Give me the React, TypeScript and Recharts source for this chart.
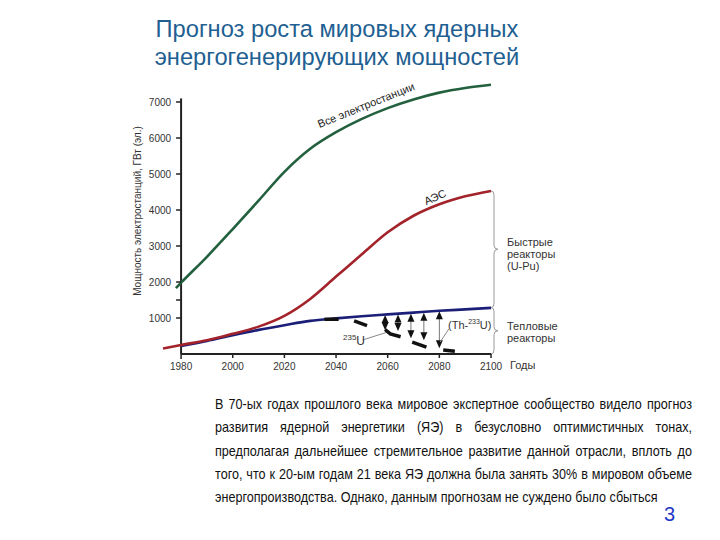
import { LineChart, Line, XAxis, YAxis, ReferenceLine } from 'recharts'

// --- data ---
const YEAR_TICKS = [1980, 2000, 2020, 2040, 2060, 2080, 2100]
const VALUE_TICKS = [1000, 1500, 2000, 3000, 4000, 5000, 6000, 7000]

const allYears = [1978, 1980, 1990, 2000, 2010, 2020, 2030, 2040, 2050, 2060, 2070, 2080, 2090, 2100]
const allValues = [1830, 1980, 2700, 3470, 4260, 5060, 5700, 6160, 6530, 6830, 7070, 7260, 7390, 7480]

const npsYears = [1973, 1980, 1990, 2000, 2010, 2020, 2030, 2040, 2050, 2060, 2070, 2080, 2090, 2100]
const npsValues = [150, 250, 380, 560, 760, 1060, 1530, 2150, 2770, 3380, 3840, 4160, 4380, 4530]

const thermalYears = [1980, 1990, 2000, 2010, 2020, 2030, 2040, 2050, 2060, 2070, 2080, 2090, 2100]
const thermalValues = [220, 360, 520, 670, 800, 920, 990, 1050, 1100, 1150, 1200, 1240, 1280]

// 235U thermal reactors decline, drawn as separate thick dashes
const u235Dashes = [
  [[2035.5, 965], [2041, 965]],
  [[2047, 920], [2052, 790]],
  [[2059, 680], [2061, 560], [2065, 480]],
  [[2069.5, 330], [2075, 190]],
  [[2081.5, 110], [2086, 75]],
]

const arrowYears = [2059, 2064, 2069, 2074, 2080]
const arrowTops = [1085, 1095, 1120, 1145, 1190]
const arrowBottoms = [660, 640, 440, 380, 160]

const X_MIN = 1973
const X_MAX = 2100
const Y_TOP = 7500 // plot area top (data goes above the drawn axis)
const Y_AXIS_END = 7100

const MARGIN = { top: 84, right: 229, bottom: 156, left: 123 }
const Y_AXIS_W = 40
const PLOT_W = 720 - MARGIN.left - MARGIN.right - Y_AXIS_W
const OFFSET_1980 = ((1980 - X_MIN) / (X_MAX - X_MIN)) * PLOT_W

const FONT = '"Liberation Sans", Arial, sans-serif'

const toPts = (xs: number[], ys: number[]) => xs.map((x, i) => ({ year: x, v: ys[i] }))

function YTick(props: any) {
  const { x, y, payload } = props
  const ax = x + OFFSET_1980
  const major = payload.value % 1000 === 0
  return (
    <g>
      <line x1={ax - 5} x2={ax} y1={y} y2={y} stroke="#222" strokeWidth={1.5} />
      {major && (
        <text x={ax - 10} y={y} dy={3.5} textAnchor="end" fontSize={10} fill="#333" fontFamily={FONT}>
          {payload.value}
        </text>
      )}
    </g>
  )
}

function XTick(props: any) {
  const { x, y, payload } = props
  return (
    <g>
      <line x1={x} x2={x} y1={y} y2={y + (payload.value === 1980 ? 5 : 4)} stroke="#222" strokeWidth={1.5} />
      <text x={x} y={y + 15.5} textAnchor="middle" fontSize={10} fill="#333" fontFamily={FONT}>
        {payload.value}
      </text>
    </g>
  )
}

function Arrow(props: any) {
  const { x1, y1, y2 } = props
  const top = Math.min(y1, y2)
  const bot = Math.max(y1, y2)
  return (
    <g>
      <line x1={x1} x2={x1} y1={top + 6} y2={bot - 6} stroke="#777" strokeWidth={1} />
      <polygon points={`${x1 - 3.5},${top + 8} ${x1 + 3.5},${top + 8} ${x1},${top}`} fill="#111" />
      <polygon points={`${x1 - 3.5},${bot - 8} ${x1 + 3.5},${bot - 8} ${x1},${bot}`} fill="#111" />
    </g>
  )
}

function Brace(props: any) {
  const { x1, y1, y2 } = props
  const top = Math.min(y1, y2)
  const bot = Math.max(y1, y2)
  const mid = (top + bot) / 2
  const x = x1 + 1
  const d = `M${x - 1},${top} Q${x + 2},${top} ${x + 2},${top + 4} L${x + 2},${mid - 4} Q${x + 2},${mid} ${x + 6},${mid} Q${x + 2},${mid} ${x + 2},${mid + 4} L${x + 2},${bot - 4} Q${x + 2},${bot} ${x - 1},${bot}`
  return <path d={d} fill="none" stroke="#999" strokeWidth={1} />
}

function YLabel(props: any) {
  const { viewBox } = props
  const cx = viewBox.x + 14
  const cy = viewBox.y + viewBox.height / 2 - 8
  return (
    <text x={cx} y={cy} transform={`rotate(-90, ${cx}, ${cy})`} textAnchor="middle" dominantBaseline="central" fontSize={10} fill="#333" fontFamily={FONT}>
      Мощность электростанций,  ГВт (эл.)
    </text>
  )
}

const abs = (left: number, top: number, extra: any = {}) => ({ position: 'absolute' as const, left, top, whiteSpace: 'nowrap' as const, ...extra })

const PARA_LINES = [
  'В 70-ых годах прошлого века мировое экспертное сообщество видело прогноз',
  'развития ядерной энергетики (ЯЭ) в безусловно оптимистичных тонах,',
  'предполагая дальнейшее стремительное развитие данной отрасли, вплоть до',
  'того, что к 20-ым годам 21 века ЯЭ должна была занять 30% в мировом объеме',
  'энергопроизводства. Однако, данным прогнозам не суждено было сбыться',
]
const PARA_SCALE = 0.84

export default function App() {
  return (
    <div style={{ position: 'absolute', left: 0, top: 0, width: 720, height: 540, background: '#fff', fontFamily: FONT, overflow: 'hidden' }}>
      <div style={{ position: 'absolute', left: 0, top: 0 }}>
        <LineChart width={720} height={540} margin={MARGIN}>
          <XAxis
            dataKey="year"
            type="number"
            domain={[X_MIN, X_MAX]}
            ticks={YEAR_TICKS}
            axisLine={false}
            tickLine={false}
            tickSize={0}
            tickMargin={0}
            height={30}
            tick={<XTick />}
            allowDuplicatedCategory={false}
          />
          <YAxis
            type="number"
            domain={[0, Y_TOP]}
            ticks={VALUE_TICKS}
            axisLine={false}
            tickLine={false}
            tickSize={0}
            tickMargin={0}
            width={Y_AXIS_W}
            tick={<YTick />}
            interval={0}
            label={<YLabel />}
          />
          <ReferenceLine segment={[{ x: 1980, y: 0 }, { x: 2100, y: 0 }]} stroke="#222" strokeWidth={2} />
          <ReferenceLine segment={[{ x: 1980, y: 0 }, { x: 1980, y: Y_AXIS_END }]} stroke="#222" strokeWidth={2} />

          <ReferenceLine segment={[{ x: 2100, y: 4530 }, { x: 2100, y: 1290 }]} shape={<Brace />} />
          <ReferenceLine segment={[{ x: 2100, y: 1290 }, { x: 2100, y: 0 }]} shape={<Brace />} />

          {arrowYears.map((yr, i) => (
            <ReferenceLine key={yr} segment={[{ x: yr, y: arrowTops[i] }, { x: yr, y: arrowBottoms[i] }]} shape={<Arrow />} />
          ))}

          <ReferenceLine segment={[{ x: 2050.3, y: 390 }, { x: 2060, y: 610 }]} stroke="#888" strokeWidth={1} />
          <ReferenceLine segment={[{ x: 2083.7, y: 700 }, { x: 2080.3, y: 330 }]} stroke="#888" strokeWidth={1} />

          <Line data={toPts(thermalYears, thermalValues)} dataKey="v" type="monotone" stroke="#1c1f78" strokeWidth={2.6} dot={false} isAnimationActive={false} />
          <Line data={toPts(npsYears, npsValues)} dataKey="v" type="monotone" stroke="#a3232b" strokeWidth={2.6} dot={false} isAnimationActive={false} />
          <Line data={toPts(allYears, allValues)} dataKey="v" type="monotone" stroke="#22603e" strokeWidth={2.6} dot={false} isAnimationActive={false} />
          {u235Dashes.map((seg, i) => (
            <Line
              key={i}
              data={seg.map(([x, y]) => ({ year: x, v: y }))}
              dataKey="v"
              type="linear"
              stroke="#111"
              strokeWidth={3.5}
              dot={false}
              isAnimationActive={false}
            />
          ))}
        </LineChart>
      </div>

      <div style={{ position: 'absolute', left: 0, width: 674, top: 15, textAlign: 'center', color: '#1f5f92', fontSize: 23.7, lineHeight: '28px' }}>
        Прогноз роста мировых ядерных
        <br />
        энергогенерирующих мощностей
      </div>

      <div style={abs(366, 105, { transform: 'translate(-50%,-50%) rotate(-22deg)', fontSize: 11, color: '#222' })}>Все электростанции</div>
      <div style={abs(435, 197, { transform: 'translate(-50%,-50%) rotate(-24deg)', fontSize: 11, color: '#222' })}>АЭС</div>

      <div style={abs(507, 236, { fontSize: 11, lineHeight: '12px', color: '#333' })}>
        Быстрые
        <br />
        реакторы
        <br />
        (U-Pu)
      </div>
      <div style={abs(507, 320, { fontSize: 11, lineHeight: '12px', color: '#333' })}>
        Тепловые
        <br />
        реакторы
      </div>
      <div style={abs(510, 359, { fontSize: 11, color: '#333' })}>Годы</div>

      <div style={abs(343, 333, { fontSize: 12, color: '#333' })}>
        <sup style={{ fontSize: 8 }}>235</sup>U
      </div>
      <div style={abs(448, 318, { fontSize: 11, color: '#333' })}>
        (Th-<sup style={{ fontSize: 7 }}>233</sup>U)
      </div>

      <div
        style={{
          position: 'absolute',
          left: 215,
          top: 392,
          width: 477 / PARA_SCALE,
          fontSize: 15,
          lineHeight: '23.3px',
          color: '#111',
          transform: `scaleX(${PARA_SCALE})`,
          transformOrigin: 'left top',
        }}
      >
        {PARA_LINES.map((t, i) => (
          <div key={i} style={{ whiteSpace: 'nowrap', textAlign: i < 4 ? 'justify' : 'left', textAlignLast: i < 4 ? 'justify' : 'left' } as any}>
            {t}
          </div>
        ))}
      </div>

      <div style={abs(664, 503, { fontSize: 20, color: '#2236c4' })}>3</div>
    </div>
  )
}
